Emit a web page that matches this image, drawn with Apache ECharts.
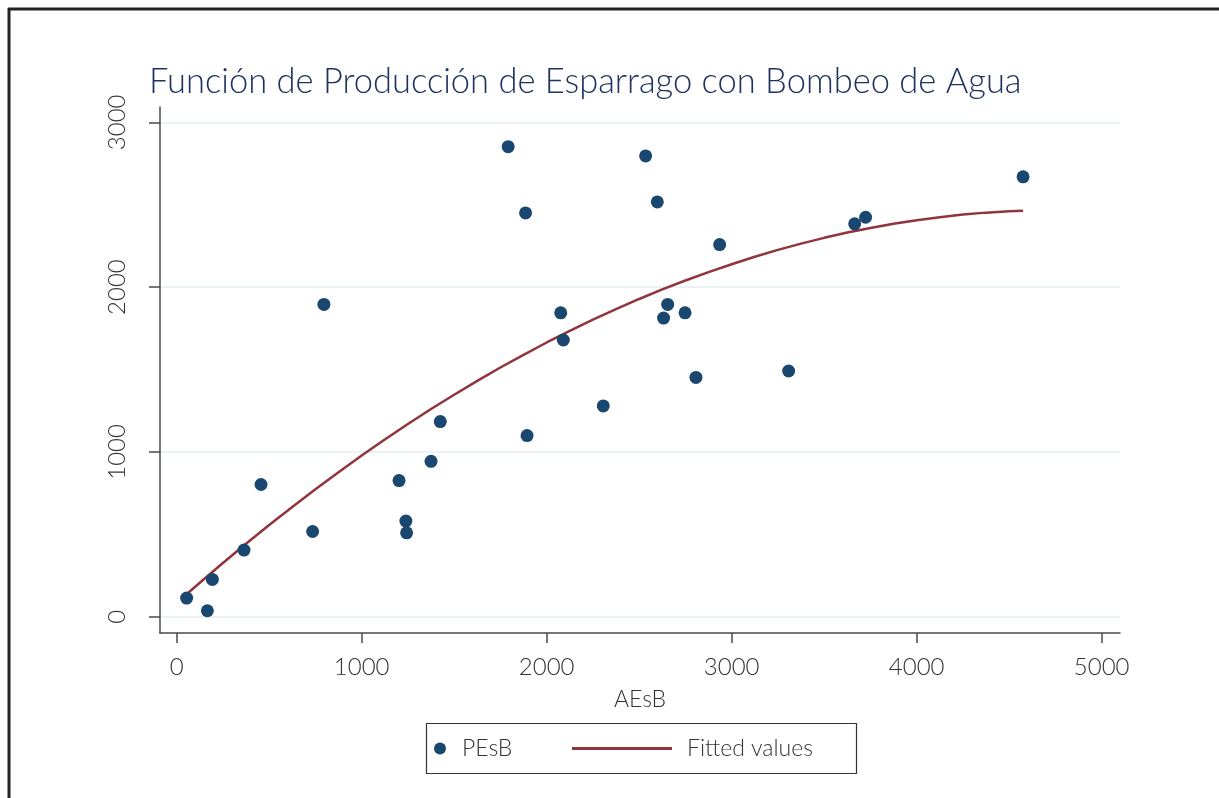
<!DOCTYPE html>
<html>
<head>
<meta charset="utf-8">
<title>Función de Producción de Esparrago con Bombeo de Agua</title>
<script src="https://cdn.jsdelivr.net/npm/echarts@6/dist/echarts.min.js"></script>
<style>
  html, body { margin: 0; padding: 0; background: #fff; }
  #chart { width: 1219px; height: 798px; }
</style>
</head>
<body>
<div id="chart"></div>
<script>
// Observations: water applied (AEsB) vs. asparagus output (PEsB)
const aesb = [54, 166, 193, 364, 456, 735, 796, 1202, 1239, 1243, 1375, 1425,
              1792, 1886, 1894, 2076, 2090, 2306, 2535, 2598, 2632, 2654, 2748,
              2807, 2935, 3308, 3665, 3724, 4575];
const pesb = [113, 36, 226, 404, 802, 517, 1895, 826, 580, 509, 943, 1184,
              2852, 2450, 1099, 1844, 1679, 1279, 2796, 2517, 1812, 1895, 1844,
              1452, 2258, 1491, 2384, 2424, 2669];

// Fitted curve, sampled along AEsB
const fitX = [63, 125, 250, 375, 500, 625, 750, 875, 1000, 1125, 1250, 1375,
              1500, 1625, 1750, 1875, 2000, 2125, 2250, 2375, 2500, 2625, 2750,
              2875, 3000, 3125, 3250, 3375, 3500, 3625, 3750, 3875, 4000, 4125,
              4250, 4375, 4500, 4575];
const fitY = [145, 206, 326, 443, 556, 666, 774, 877, 978, 1075, 1169, 1260,
              1347, 1431, 1512, 1589, 1664, 1735, 1802, 1867, 1928, 1986, 2040,
              2091, 2139, 2184, 2226, 2264, 2299, 2331, 2359, 2384, 2406, 2424,
              2440, 2452, 2461, 2464];

const xTicks = [0, 1000, 2000, 3000, 4000, 5000];
const yTicks = [0, 1000, 2000, 3000];

const FONT = 'Lato';
const NAVY = '#1a476f';
const MAROON = '#90353b';
const AXIS = '#4a4a4a';
const GRID = '#eaf2f3';

const chart = echarts.init(document.getElementById('chart'), null, { renderer: 'canvas' });

const plain = v => String(v);

chart.setOption({
  backgroundColor: '#ffffff',
  animation: false,
  title: {
    text: 'Función de Producción de Esparrago con Bombeo de Agua',
    left: 149,
    top: 64,
    padding: 0,
    textStyle: { fontFamily: FONT, fontWeight: 300, fontSize: 34.5, color: '#1e3160' }
  },
  grid: { left: 160, top: 107, width: 960, height: 526 },
  xAxis: {
    type: 'value',
    min: -90,
    max: 5099,
    name: 'AEsB',
    nameLocation: 'middle',
    nameGap: 55,
    nameTextStyle: { fontFamily: FONT, fontWeight: 300, fontSize: 23, color: '#333' },
    axisLine: { onZero: false, lineStyle: { color: AXIS, width: 1.5 } },
    axisTick: { show: true, customValues: xTicks, length: 10, inside: false, lineStyle: { color: AXIS, width: 1.5 } },
    axisLabel: { customValues: xTicks, formatter: plain, margin: 22, fontFamily: FONT, fontWeight: 300, fontSize: 24, color: '#333' },
    splitLine: { show: false }
  },
  yAxis: {
    type: 'value',
    min: -99,
    max: 3093,
    axisLine: { show: true, onZero: false, lineStyle: { color: AXIS, width: 1.5 } },
    axisTick: { show: true, customValues: yTicks, length: 11, inside: false, lineStyle: { color: AXIS, width: 1.5 } },
    axisLabel: { customValues: yTicks, formatter: plain, rotate: 90, margin: 31, fontFamily: FONT, fontWeight: 300, fontSize: 24, color: '#333' },
    splitLine: { show: true, lineStyle: { color: GRID, width: 2 } }
  },
  legend: [
    {
      data: [{ name: 'PEsB', icon: 'circle' }],
      left: 434,
      top: 737,
      padding: 0,
      itemWidth: 12,
      itemHeight: 12,
      textStyle: { fontFamily: FONT, fontWeight: 300, fontSize: 23, color: '#333', padding: [0, 0, 0, 11] }
    },
    {
      data: [{ name: 'Fitted values', icon: 'rect' }],
      left: 572,
      top: 737,
      padding: 0,
      itemWidth: 100,
      itemHeight: 3,
      textStyle: { fontFamily: FONT, fontWeight: 300, fontSize: 23, color: '#333', padding: [0, 0, 0, 10] }
    }
  ],
  graphic: [
    // legend frame
    { type: 'rect', left: 424, top: 721, shape: { width: 430, height: 50 },
      style: { fill: 'none', stroke: '#333', lineWidth: 1.2 }, silent: true, z: -1 },
    // outer frame edges
    { type: 'line', shape: { x1: 8, y1: 9, x2: 1219, y2: 9 },
      style: { stroke: '#222', lineWidth: 3 }, silent: true },
    { type: 'line', shape: { x1: 9, y1: 8, x2: 9, y2: 798 },
      style: { stroke: '#222', lineWidth: 3 }, silent: true }
  ],
  series: [
    {
      name: 'PEsB',
      type: 'scatter',
      symbol: 'circle',
      symbolSize: 13,
      itemStyle: { color: NAVY, opacity: 1 },
      data: aesb.map((x, i) => [x, pesb[i]]),
      z: 3
    },
    {
      name: 'Fitted values',
      type: 'line',
      showSymbol: false,
      symbol: 'none',
      smooth: false,
      lineStyle: { color: MAROON, width: 2.5 },
      itemStyle: { color: MAROON },
      data: fitX.map((x, i) => [x, fitY[i]]),
      z: 2
    }
  ]
});
</script>
</body>
</html>
